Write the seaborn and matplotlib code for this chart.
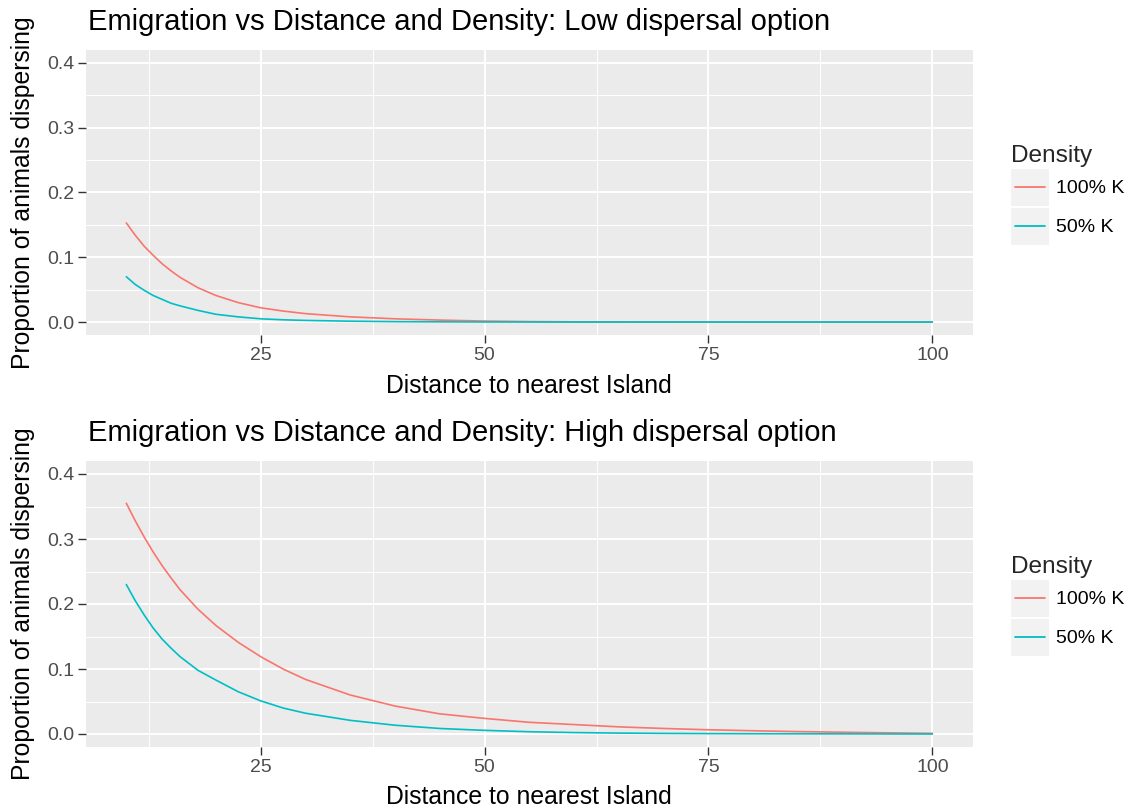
import numpy as np
import pandas as pd
import matplotlib
matplotlib.use("Agg")
import matplotlib.pyplot as plt
from matplotlib.patches import Rectangle
from matplotlib.lines import Line2D
from matplotlib.legend_handler import HandlerBase
import seaborn as sns

# Distance to nearest island (shared by every curve)
distance = [10, 11, 12, 13, 14, 15, 16, 18, 20, 22.5, 25, 27.5, 30, 35, 40, 45,
            50, 55, 60, 65, 70, 75, 80, 85, 90, 95, 100]

# Low dispersal option
low_100k = [0.153, 0.134, 0.117, 0.103, 0.090, 0.079, 0.069, 0.053, 0.041, 0.030,
            0.022, 0.017, 0.013, 0.008, 0.005, 0.003, 0.0015, 0.0007, 0.0003,
            0.0002, 0.0001, 0.0001, 0.0, 0.0, 0.0, 0.0, 0.0]
low_50k = [0.070, 0.058, 0.049, 0.041, 0.035, 0.029, 0.025, 0.018, 0.012, 0.008,
           0.005, 0.0035, 0.0025, 0.0013, 0.0006, 0.0003, 0.0001, 0.0001, 0.0,
           0.0, 0.0, 0.0, 0.0, 0.0, 0.0, 0.0, 0.0]

# High dispersal option
high_100k = [0.355, 0.328, 0.303, 0.280, 0.259, 0.240, 0.222, 0.192, 0.167, 0.141,
             0.119, 0.100, 0.084, 0.060, 0.043, 0.031, 0.024, 0.018, 0.0145,
             0.011, 0.0085, 0.0065, 0.005, 0.0037, 0.0027, 0.0018, 0.001]
high_50k = [0.230, 0.205, 0.183, 0.163, 0.146, 0.132, 0.119, 0.098, 0.083, 0.065,
            0.051, 0.040, 0.032, 0.021, 0.0135, 0.0085, 0.0056, 0.0035, 0.0022,
            0.0014, 0.0009, 0.0006, 0.0004, 0.0003, 0.0002, 0.0001, 0.0]

density_levels = ["100% K", "50% K"]
palette = {"100% K": "#F8766D", "50% K": "#00BFC4"}
x_ticks = [25, 50, 75, 100]
y_ticks = [0.0, 0.1, 0.2, 0.3, 0.4]
titles = ["Emigration vs Distance and Density: Low dispersal option",
          "Emigration vs Distance and Density: High dispersal option"]
x_label = "Distance to nearest Island"
y_label = "Proportion of animals dispersing"


def make_frame(v100, v50):
    return pd.DataFrame({
        "distance": distance * 2,
        "proportion": v100 + v50,
        "Density": [density_levels[0]] * len(distance) + [density_levels[1]] * len(distance),
    })


frames = [make_frame(low_100k, low_50k), make_frame(high_100k, high_50k)]

sns.set_theme(style="darkgrid")
plt.rcParams["font.family"] = ["Liberation Sans", "DejaVu Sans"]

W, H = 1127, 811
fig = plt.figure(figsize=(W / 100, H / 100), dpi=100)
fig.patch.set_facecolor("white")


class KeyHandler(HandlerBase):
    """Legend key: light grey square with a horizontal line across it."""
    def create_artists(self, legend, orig_handle, xdescent, ydescent,
                       width, height, fontsize, trans):
        bg = Rectangle((-xdescent, -ydescent), width, height,
                       facecolor="#F2F2F2", edgecolor="none", transform=trans)
        y = -ydescent + height / 2
        ln = Line2D([-xdescent + width * 0.1, -xdescent + width * 0.9], [y, y],
                    color=orig_handle.get_color(), lw=1.3, transform=trans)
        return [bg, ln]


left_px, right_px = 86, 972.7
panels_px = [(50, 335), (461, 747)]
offsets = [0, 411]

for i, (top, bottom) in enumerate(panels_px):
    ax = fig.add_axes([left_px / W, 1 - bottom / H,
                       (right_px - left_px) / W, (bottom - top) / H])
    sns.lineplot(data=frames[i], x="distance", y="proportion", hue="Density",
                 hue_order=density_levels, palette=palette, ax=ax,
                 legend=False, linewidth=1.2, estimator=None)
    ax.set_facecolor("#EBEBEB")
    ax.set_xlim(5.5, 104.5)
    ax.set_ylim(-0.02, 0.42)
    ax.set_xticks(x_ticks)
    ax.set_xticklabels([str(t) for t in x_ticks])
    ax.set_yticks(y_ticks)
    ax.set_yticklabels([f"{t:.1f}" for t in y_ticks])
    ax.set_xticks([12.5, 37.5, 62.5, 87.5], minor=True)
    ax.set_yticks([0.05, 0.15, 0.25, 0.35], minor=True)
    ax.grid(which="major", color="white", linewidth=1.4)
    ax.grid(which="minor", color="white", linewidth=0.7)
    ax.tick_params(which="major", length=5.5, width=1.0, color="#333333",
                   labelsize=14, labelcolor="#4D4D4D", pad=3,
                   bottom=True, left=True)
    ax.tick_params(which="minor", length=0)
    for s in ax.spines.values():
        s.set_visible(False)
    ax.set_xlabel("")
    ax.set_ylabel("")

    off = offsets[i]
    fig.text(88 / W, 1 - (30 + off) / H, titles[i], fontsize=21,
             ha="left", va="baseline", color="black")
    fig.text((left_px + right_px) / 2 / W, 1 - (393 + off) / H, x_label,
             fontsize=17.8, ha="center", va="baseline", color="black")
    fig.text(23 / W, 1 - (top + bottom) / 2 / H, y_label, fontsize=17.8,
             rotation=90, ha="center", va="center", color="black")

    handles = [Line2D([], [], color=palette[d]) for d in density_levels]
    leg = ax.legend(handles, density_levels, title="Density",
                    loc="upper left",
                    bbox_to_anchor=(1011 / W, 1 - (145 + off) / H),
                    bbox_transform=fig.transFigure, frameon=False,
                    fontsize=14, title_fontsize=17.6, borderpad=0,
                    handlelength=1.95, handleheight=2.55, labelspacing=0.1,
                    handletextpad=0.35, borderaxespad=0, alignment="left",
                    handler_map={Line2D: KeyHandler()})
    for t in leg.get_texts():
        t.set_color("black")

fig.savefig("out.png", dpi=100, facecolor="white")
